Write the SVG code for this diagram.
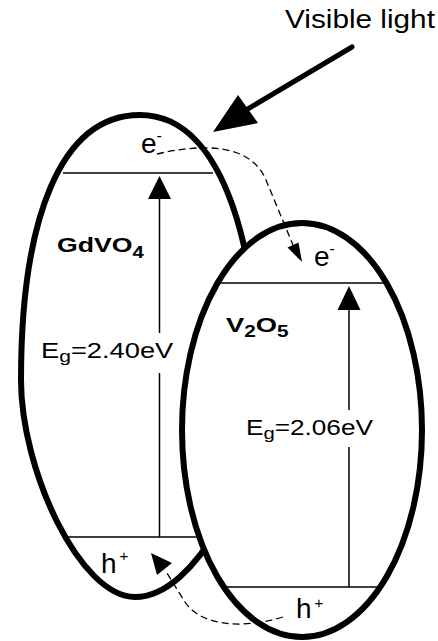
<svg xmlns="http://www.w3.org/2000/svg" width="438" height="641" viewBox="0 0 438 641">
<style>
.shell{fill:#fff;stroke:#000;stroke-width:6}
.lvl{fill:none;stroke:#000;stroke-width:1.5}
.head{fill:#000;stroke:none}
.t{font-family:"Liberation Sans",Arial,sans-serif;fill:#000}
.b{font-weight:bold}
.dash{fill:none;stroke:#000;stroke-width:1.3;stroke-dasharray:7 4}
</style>
<rect width="438" height="641" fill="#fff"/>
<g id="gdvo4">
<path class="shell" d="M140,115 C60,115 21,220 21,380 C21,470 80,597 135,597 C195,597 258,480 258,380 C258,270 230,115 140,115 Z"/>
<line class="lvl" x1="63" y1="173" x2="213" y2="173"/>
<line class="lvl" x1="64" y1="537" x2="205" y2="537"/>
<path class="lvl" d="M159.5,537 V373 M159.5,333 V197"/>
<polygon class="head" points="159.5,176 148,199 171,199"/>
<text class="t b" font-size="21" transform="translate(57,252) scale(1.27,1)">GdVO<tspan font-size="16" dy="6">4</tspan></text>
<text class="t" font-size="22" transform="translate(41,358) scale(1.24,1)">E<tspan font-size="17" dy="4">g</tspan><tspan dy="-4">=2.40eV</tspan></text>
<text class="t" font-size="28" x="141" y="152.5">e<tspan font-size="16" dy="-12">-</tspan></text>
<text class="t" font-size="28" x="101" y="573">h<tspan font-size="15" dx="3" dy="-12">+</tspan></text>
</g>
<g id="v2o5">
<ellipse class="shell" cx="302" cy="430" rx="120" ry="207"/>
<line class="lvl" x1="220" y1="283" x2="384" y2="283"/>
<line class="lvl" x1="227" y1="587" x2="377" y2="587"/>
<path class="lvl" d="M349,587 V447 M349,410 V308"/>
<polygon class="head" points="349,286 337.5,310 360.5,310"/>
<text class="t b" font-size="21" transform="translate(226,332) scale(1.3,1)">V<tspan font-size="16" dy="5">2</tspan><tspan dy="-5">O</tspan><tspan font-size="16" dy="5">5</tspan></text>
<text class="t" font-size="22" transform="translate(246,435) scale(1.19,1)">E<tspan font-size="17" dy="4">g</tspan><tspan dy="-4">=2.06eV</tspan></text>
<text class="t" font-size="28" x="314" y="266">e<tspan font-size="16" dy="-12.5">-</tspan></text>
<text class="t" font-size="28" x="296" y="618">h<tspan font-size="15" dx="3" dy="-10">+</tspan></text>
</g>
<g id="light">
<text class="t" font-size="25" transform="translate(285,28) scale(1.19,1)">Visible light</text>
</g>
<g id="connectors">
<line x1="352" y1="47" x2="246" y2="110" stroke="#000" stroke-width="5" stroke-linecap="round"/>
<polygon class="head" points="213,132 238,95 258,123"/>
<path class="dash" d="M157,154 C200,144 250,142 266,180 L293,245"/>
<polygon class="head" points="302,262 287.5,247.5 298.5,242.5"/>
<path class="dash" d="M283,617 C240,630 200,625 185,602 L165,570"/>
<polygon class="head" points="151,553 172,563 157,575"/>
</g>
</svg>
